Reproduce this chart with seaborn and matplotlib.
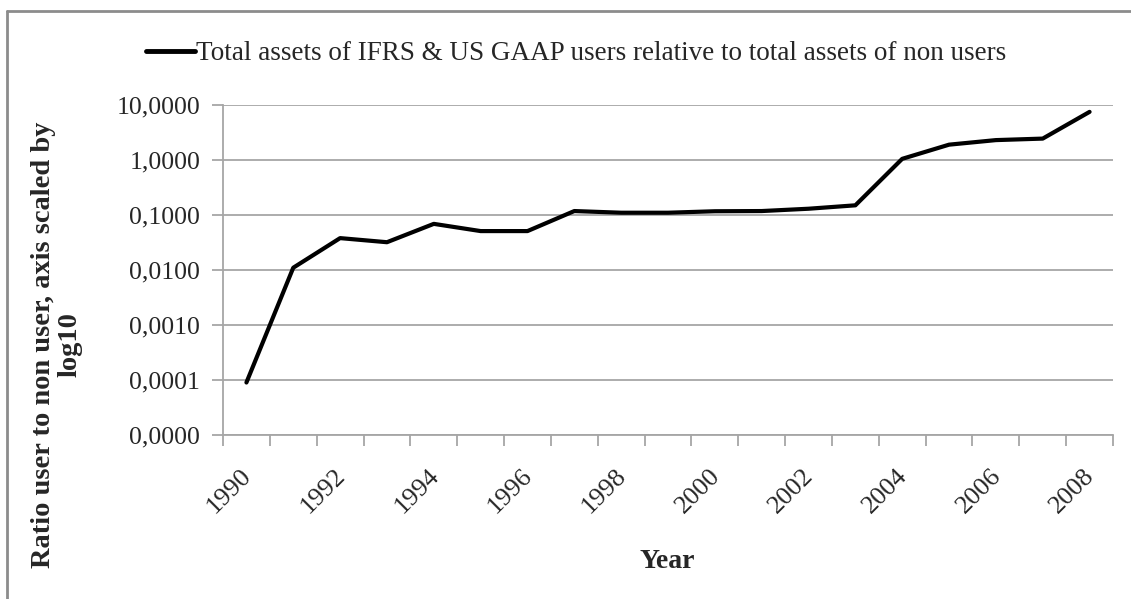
import matplotlib
matplotlib.use("Agg")
import matplotlib.pyplot as plt
import matplotlib.transforms as mtransforms
import seaborn as sns
import numpy as np
import pandas as pd
from matplotlib.lines import Line2D
from matplotlib.ticker import FixedLocator, FuncFormatter, NullFormatter

years = list(range(1990, 2009))
ratio = [0.00009, 0.011, 0.038, 0.032, 0.069, 0.051, 0.051, 0.118, 0.11, 0.11,
         0.117, 0.118, 0.13, 0.15, 1.05, 1.9, 2.3, 2.45, 7.5]
series_name = "Total assets of IFRS & US GAAP users relative to total assets of non users"
y_ticks = [1e-5, 1e-4, 1e-3, 1e-2, 1e-1, 1, 10]
x_label_years = list(range(1990, 2009, 2))

sns.set_theme(style="white")
plt.rcParams['font.family'] = ['Liberation Serif', 'DejaVu Serif']

df = pd.DataFrame({"Year": years, "Ratio": ratio, "series": series_name})

W, H = 1131, 599
fig = plt.figure(figsize=(W / 100, H / 100), dpi=100)
ax = fig.add_axes([223 / W, 1 - 435 / H, (1113 - 223) / W, (435 - 105) / H])

sns.lineplot(data=df, x="Year", y="Ratio", hue="series", palette=["black"],
             linewidth=3.0, ax=ax, legend=True)

ax.set_yscale("log")
ax.set_ylim(1e-5, 10)
ax.set_xlim(1989.5, 2008.5)

grid_c = "#a6a6a6"
ax.yaxis.set_major_locator(FixedLocator(y_ticks))
ax.yaxis.set_minor_locator(FixedLocator([]))
ax.yaxis.set_major_formatter(FuncFormatter(lambda v, p: f"{v:.4f}".replace('.', ',')))
ax.grid(axis='y', which='major', color=grid_c, linewidth=1.3)
ax.grid(axis='x', visible=False)

ax.xaxis.set_major_locator(FixedLocator(x_label_years))
ax.xaxis.set_minor_locator(FixedLocator(np.arange(1989.5, 2009.0, 1.0)))
ax.xaxis.set_minor_formatter(NullFormatter())
ax.tick_params(axis='x', which='major', length=0, labelsize=19, pad=18)
ax.tick_params(axis='x', which='minor', length=8, width=1.3, color=grid_c, direction='out', bottom=True)
ax.tick_params(axis='y', which='major', length=8, width=1.3, color=grid_c, direction='out', left=True, labelsize=18.5, pad=8.5)

for s in ['top', 'right']:
    ax.spines[s].set_visible(False)
for s in ['left', 'bottom']:
    ax.spines[s].set_color(grid_c)
    ax.spines[s].set_linewidth(1.3)

ax.set_xlabel("Year", fontsize=20, fontweight='bold')
ax.xaxis.set_label_coords(0.499, -0.345)
ax.set_ylabel("Ratio user to non user, axis scaled by\nlog10", fontsize=20.5,
              fontweight='bold', linespacing=1.05)
ax.yaxis.set_label_coords(-0.158, 0.273)

leg = ax.legend(loc='center left', bbox_to_anchor=(146 / W, 1 - 54 / H),
                bbox_transform=fig.transFigure, frameon=False,
                fontsize=19.5, handlelength=1.8, handletextpad=0.05,
                borderaxespad=0, borderpad=0)
for h in leg.get_lines():
    h.set_linewidth(3.5)

# rotated year labels, nudged to match the reference placement
offset = mtransforms.ScaledTranslation(-6 / 100, -5 / 100, fig.dpi_scale_trans)
for lab in ax.get_xticklabels():
    lab.set_rotation(45)
    lab.set_ha('right')
    lab.set_rotation_mode('anchor')
    lab.set_transform(lab.get_transform() + offset)

# outer chart border
bc = "#8c8c8c"
fig.add_artist(Line2D([7 / W, 7 / W], [0, 1 - 11 / H], transform=fig.transFigure, color=bc, linewidth=2))
fig.add_artist(Line2D([7 / W, 1], [1 - 11 / H, 1 - 11 / H], transform=fig.transFigure, color=bc, linewidth=2))

fig.savefig("out.png", dpi=100, facecolor="white")
